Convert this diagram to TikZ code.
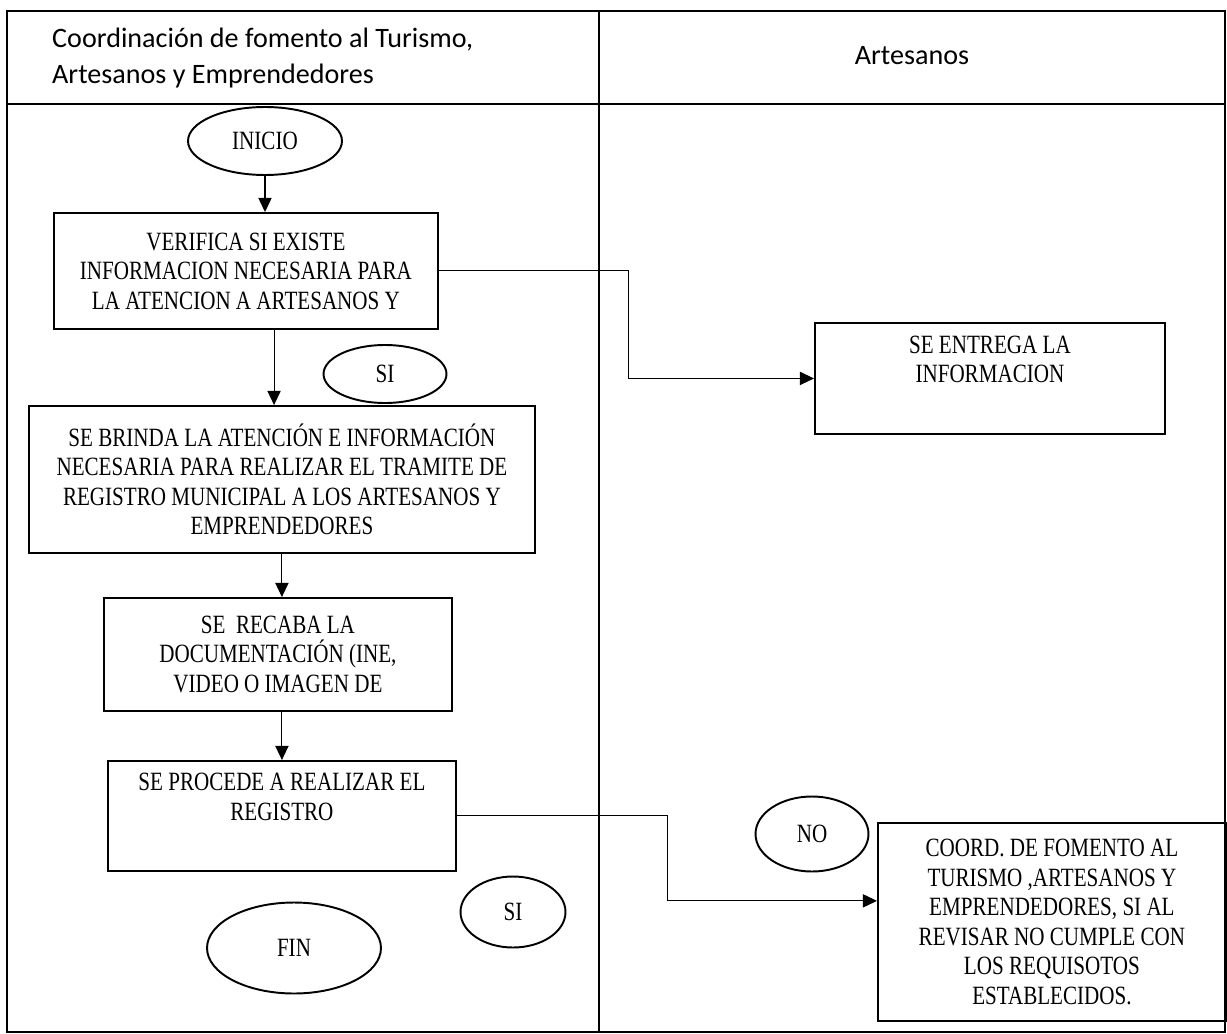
\documentclass[tikz,border=0pt]{standalone}
\usepackage{fontspec}
\setmainfont{Liberation Serif}[FakeStretch=0.8]
\newfontfamily\cabecera{Carlito}
\usetikzlibrary{shapes.geometric,arrows.meta}
\begin{document}
\begin{tikzpicture}[x=0.02cm,y=-0.02cm,>={Triangle[length=8pt,width=7.5pt]},
	caja/.style={draw,line width=1.1pt,anchor=north west,align=center,inner sep=0pt,font=\fontsize{15}{16.8}\selectfont},
	elipse/.style={draw,ellipse,line width=1.1pt,inner sep=0pt,font=\fontsize{15}{16.8}\selectfont},
	flecha/.style={->,line width=0.6pt}]
	\useasboundingbox (0,0) rectangle (1227,1034);
	% carriles
	\draw[line width=0.9pt] (7,11) rectangle (1225,1032);
	\draw[line width=0.8pt] (599,11) -- (599,1032);
	\draw[line width=0.8pt] (7,104) -- (1225,104);
	\node[anchor=west,align=left,font=\cabecera\fontsize{16}{20}\selectfont] (carril1) at (46,58) {Coordinación de fomento al Turismo,\\Artesanos y Emprendedores};
	\node[font=\cabecera\fontsize{16}{19}\selectfont] (carril2) at (912,56) {Artesanos};
	% elipses
	\node[elipse,minimum width=3.08cm,minimum height=1.36cm] (ini) at (265,141) {INICIO};
	\node[elipse,minimum width=2.46cm,minimum height=1.16cm] (si1) at (385,374) {SI};
	\node[elipse,minimum width=3.48cm,minimum height=1.82cm] (fin) at (294,948) {FIN};
	\node[elipse,minimum width=2.1cm,minimum height=1.42cm] (si2) at (513,912) {SI};
	\node[elipse,minimum width=2.26cm,minimum height=1.5cm] (no) at (812,834) {NO};
	% cajas
	\node[caja,minimum width=7.68cm,minimum height=2.32cm] (ver) at (53,212) {VERIFICA SI EXISTE\\INFORMACION NECESARIA PARA\\LA ATENCION A ARTESANOS Y};
	\node[caja,minimum width=10.12cm,minimum height=2.94cm] (bri) at (28,405) {SE BRINDA LA ATENCIÓN E INFORMACIÓN\\NECESARIA PARA REALIZAR EL TRAMITE DE\\REGISTRO MUNICIPAL A LOS ARTESANOS Y\\EMPRENDEDORES};
	\node[caja,minimum width=6.96cm,minimum height=2.26cm] (rec) at (103,597) {SE~ RECABA LA\\DOCUMENTACIÓN (INE,\\VIDEO O IMAGEN DE};
	\node[caja,minimum width=6.96cm,minimum height=2.2cm] (proc) at (107,760) {SE PROCEDE A REALIZAR EL\\REGISTRO\\\strut};
	\node[caja,minimum width=7cm,minimum height=2.22cm] (ent) at (814,322) {SE ENTREGA LA\\INFORMACION\\\strut};
	\node[caja,minimum width=6.96cm,minimum height=3.96cm] (coord) at (877,822) {COORD. DE FOMENTO AL\\TURISMO ,ARTESANOS Y\\EMPRENDEDORES, SI AL\\REVISAR NO CUMPLE CON\\LOS REQUISOTOS\\ESTABLECIDOS.};
	% flechas
	\draw[flecha] (ini.south) -- (ini.south |- ver.north);
	\draw[flecha] ([xshift=16pt]ver.south) -- ([xshift=16pt]ver.south |- bri.north);
	\draw[flecha] (bri.south) -- (bri.south |- rec.north);
	\draw[flecha] (proc.north |- rec.south) -- (proc.north);
	\draw[flecha] (ver.east) -- ++(190,0) |- (ent.west);
	\draw[flecha] (proc.east) -- ++(211,0) |- ([yshift=12pt]coord.west);
\end{tikzpicture}
\end{document}
